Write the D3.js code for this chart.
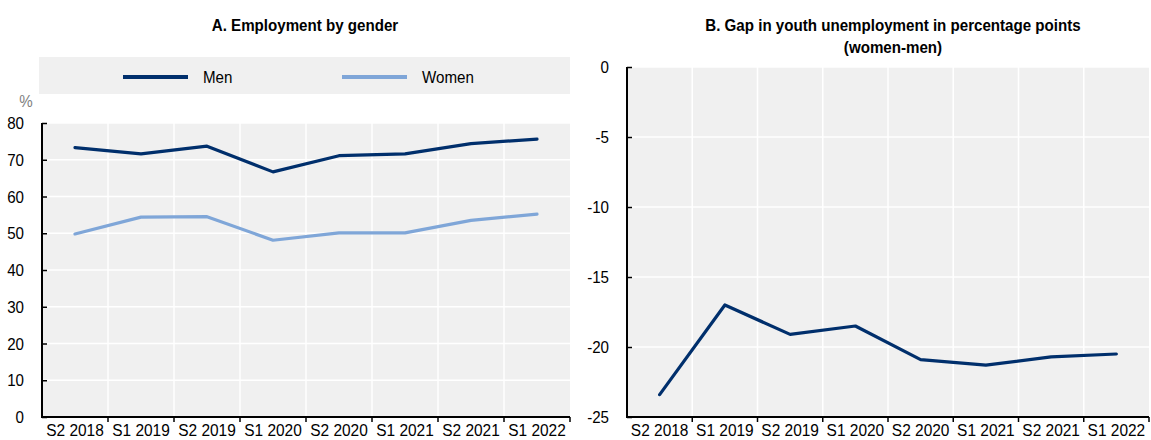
<!DOCTYPE html>
<html>
<head>
<meta charset="utf-8">
<script src="https://cdn.jsdelivr.net/npm/d3@7"></script>
<style>
  html, body { margin: 0; padding: 0; background: #fff; }
  svg { display: block; }
  text { font-family: "Liberation Sans", Arial, sans-serif; fill: #000; }
</style>
</head>
<body>
<svg id="chart" width="1151" height="440"></svg>
<script>
const categories = ["S2 2018", "S1 2019", "S2 2019", "S1 2020", "S2 2020", "S1 2021", "S2 2021", "S1 2022"];
const men = [73.3, 71.6, 73.7, 66.7, 71.1, 71.6, 74.4, 75.6];
const women = [49.8, 54.4, 54.5, 48.1, 50.1, 50.1, 53.5, 55.2];
const gap = [-23.4, -17.0, -19.1, -18.5, -20.9, -21.3, -20.7, -20.5];
const ticksA = [0, 10, 20, 30, 40, 50, 60, 70, 80];
const ticksB = [0, -5, -10, -15, -20, -25];
const seriesNames = ["Men", "Women"];
const titleA = "A. Employment by gender";
const titleB = ["B. Gap in youth unemployment in percentage points", "(women-men)"];

const colMen = "#002f6c";
const colWomen = "#7fa6d8";
const bg = "#f0f0f0";
const FS = 17;
const SX = 0.89; // narrow look

const svg = d3.select("#chart");

function ntext(parent, x, y, str, o = {}) {
  const t = parent.append("text")
    .attr("transform", `translate(${x},${y}) scale(${o.sx || SX},1)`)
    .attr("font-size", o.size || FS)
    .attr("text-anchor", o.anchor || "start")
    .text(str);
  if (o.dy) t.attr("dy", o.dy);
  if (o.bold) t.attr("font-weight", "bold");
  if (o.fill) t.style("fill", o.fill);
  return t;
}

function panel(opts) {
  const g = svg.append("g");
  const x = d3.scaleBand().domain(categories).range([opts.left, opts.right]).padding(0);
  const y = d3.scaleLinear().domain(opts.domain).range([opts.bottom, opts.top]);

  g.append("rect").attr("x", opts.left).attr("y", opts.top)
    .attr("width", opts.right - opts.left).attr("height", opts.bottom - opts.top)
    .attr("fill", bg);

  g.append("g").selectAll("line").data(opts.ticks).join("line")
    .attr("x1", opts.left).attr("x2", opts.right)
    .attr("y1", d => y(d)).attr("y2", d => y(d))
    .attr("stroke", "#fff").attr("stroke-width", 1.5);
  const bounds = categories.slice(1).map(c => x(c));
  g.append("g").selectAll("line").data(bounds).join("line")
    .attr("x1", d => d).attr("x2", d => d)
    .attr("y1", opts.top).attr("y2", opts.bottom)
    .attr("stroke", "#fff").attr("stroke-width", 1.5);

  const yAxis = d3.axisRight(y).tickValues(opts.ticks).tickSize(5).tickFormat("");
  const ya = g.append("g").attr("transform", `translate(${opts.left},0)`).call(yAxis);
  ya.select(".domain").remove();
  ya.selectAll(".tick line").attr("stroke", "#000").attr("stroke-width", 1.5);
  opts.ticks.forEach(d => ntext(g, opts.left - 18, y(d), d, { anchor: "end", dy: "0.36em" }));

  const xb = g.append("g");
  xb.selectAll("line.t").data(bounds.concat([opts.right])).join("line")
    .attr("x1", d => d).attr("x2", d => d)
    .attr("y1", opts.bottom).attr("y2", opts.bottom + 5)
    .attr("stroke", "#000").attr("stroke-width", 1.5);
  categories.forEach(c => ntext(xb, x(c) + x.bandwidth() / 2, 436, c, { anchor: "middle", sx: 0.91 }));

  g.append("line").attr("x1", opts.left).attr("x2", opts.left)
    .attr("y1", opts.top).attr("y2", opts.bottom + 1)
    .attr("stroke", "#000").attr("stroke-width", 2);
  g.append("line").attr("x1", opts.left - 1).attr("x2", opts.right)
    .attr("y1", opts.bottom).attr("y2", opts.bottom)
    .attr("stroke", "#000").attr("stroke-width", 2);

  const line = d3.line().x((d, i) => x(categories[i]) + x.bandwidth() / 2).y(d => y(d));
  opts.series.forEach(s => {
    g.append("path").attr("d", line(s.values)).attr("fill", "none")
      .attr("stroke", s.color).attr("stroke-width", 3.2)
      .attr("stroke-linejoin", "round").attr("stroke-linecap", "round");
  });
  return g;
}

// Panel A
panel({ left: 42, right: 570, top: 123, bottom: 417, domain: [0, 80], ticks: ticksA,
  series: [{ values: men, color: colMen }, { values: women, color: colWomen }] });

ntext(svg, 305, 31, titleA, { anchor: "middle", bold: true });

svg.append("rect").attr("x", 39).attr("y", 57).attr("width", 531).attr("height", 37).attr("fill", bg);
const legItems = [{ name: seriesNames[0], color: colMen, x: 123 }, { name: seriesNames[1], color: colWomen, x: 342 }];
legItems.forEach(it => {
  svg.append("line").attr("x1", it.x).attr("x2", it.x + 65).attr("y1", 77).attr("y2", 77)
    .attr("stroke", it.color).attr("stroke-width", 4);
  ntext(svg, it.x + 80, 77, it.name, { dy: "0.36em" });
});
ntext(svg, 26, 101, "%", { anchor: "middle", dy: "0.36em", fill: "#808080" });

// Panel B
panel({ left: 627, right: 1149, top: 67, bottom: 417, domain: [-25, 0], ticks: ticksB,
  series: [{ values: gap, color: colMen }] });

ntext(svg, 893, 31, titleB[0], { anchor: "middle", bold: true });
ntext(svg, 893, 53, titleB[1], { anchor: "middle", bold: true });
</script>
</body>
</html>
